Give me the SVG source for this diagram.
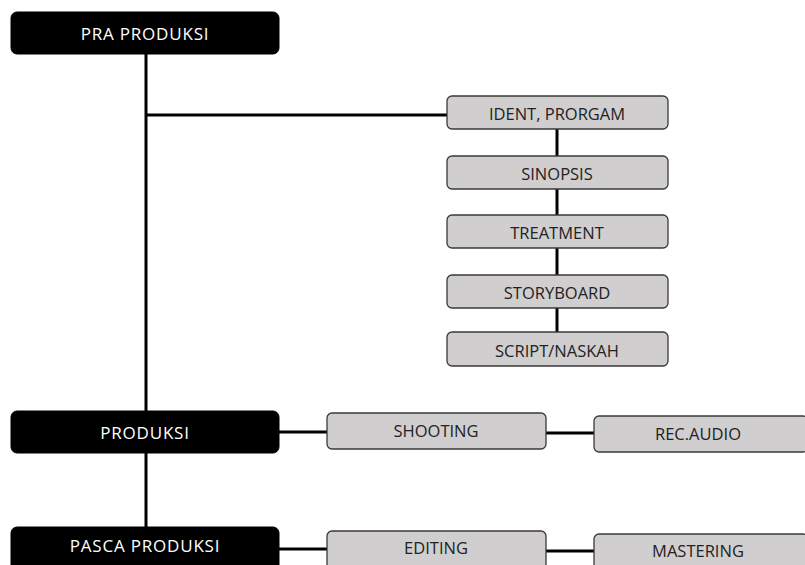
<svg xmlns="http://www.w3.org/2000/svg" width="805" height="565" viewBox="0 0 805 565">
<style>
.main rect{fill:#000;stroke:#000;stroke-width:1}
.main text{fill:#fff;font-family:"Open Sans","Noto Sans",sans-serif;font-size:17px;letter-spacing:0.8px;text-anchor:middle}
.sub rect{fill:#d0cece;stroke:#3a3a3a;stroke-width:1.3}
.sub text{fill:#222;font-family:"Open Sans","Noto Sans",sans-serif;font-size:16.5px;text-anchor:middle}
#connectors line{stroke:#000;stroke-width:3}
</style>
<rect width="805" height="565" fill="#fff"/>
<g id="connectors">
<line x1="146" y1="54" x2="146" y2="528"/>
<line x1="146" y1="115" x2="448" y2="115"/>
<line x1="557" y1="129" x2="557" y2="156"/>
<line x1="557" y1="189" x2="557" y2="215"/>
<line x1="557" y1="248" x2="557" y2="275"/>
<line x1="557" y1="308" x2="557" y2="332"/>
<line x1="279" y1="432" x2="327" y2="432"/>
<line x1="546" y1="433" x2="594" y2="433"/>
<line x1="279" y1="549" x2="327" y2="549"/>
<line x1="546" y1="551" x2="594" y2="551"/>
</g>
<g id="pra" class="main"><rect x="11" y="12" width="268" height="42" rx="6"/><text x="145" y="40">PRA PRODUKSI</text></g>
<g id="produksi" class="main"><rect x="11" y="411" width="268" height="42" rx="6"/><text x="145" y="439">PRODUKSI</text></g>
<g id="pasca" class="main"><rect x="11" y="527" width="268" height="50" rx="6"/><text x="145" y="552">PASCA PRODUKSI</text></g>
<g id="ident" class="sub"><rect x="447" y="96" width="221" height="33" rx="5"/><text x="557" y="120">IDENT, PRORGAM</text></g>
<g id="sinopsis" class="sub"><rect x="447" y="156" width="221" height="33" rx="5"/><text x="557" y="180">SINOPSIS</text></g>
<g id="treatment" class="sub"><rect x="447" y="215" width="221" height="33" rx="5"/><text x="557" y="239">TREATMENT</text></g>
<g id="storyboard" class="sub"><rect x="447" y="275" width="221" height="33" rx="5"/><text x="557" y="299">STORYBOARD</text></g>
<g id="script" class="sub"><rect x="447" y="332" width="221" height="34" rx="5"/><text x="557" y="357">SCRIPT/NASKAH</text></g>
<g id="shooting" class="sub"><rect x="327" y="413" width="219" height="36" rx="5"/><text x="436" y="437">SHOOTING</text></g>
<g id="recaudio" class="sub"><rect x="594" y="416" width="214" height="36" rx="5"/><text x="698" y="440">REC.AUDIO</text></g>
<g id="editing" class="sub"><rect x="327" y="531" width="219" height="45" rx="5"/><text x="436" y="554">EDITING</text></g>
<g id="mastering" class="sub"><rect x="594" y="534" width="214" height="45" rx="5"/><text x="698" y="557">MASTERING</text></g>
</svg>
